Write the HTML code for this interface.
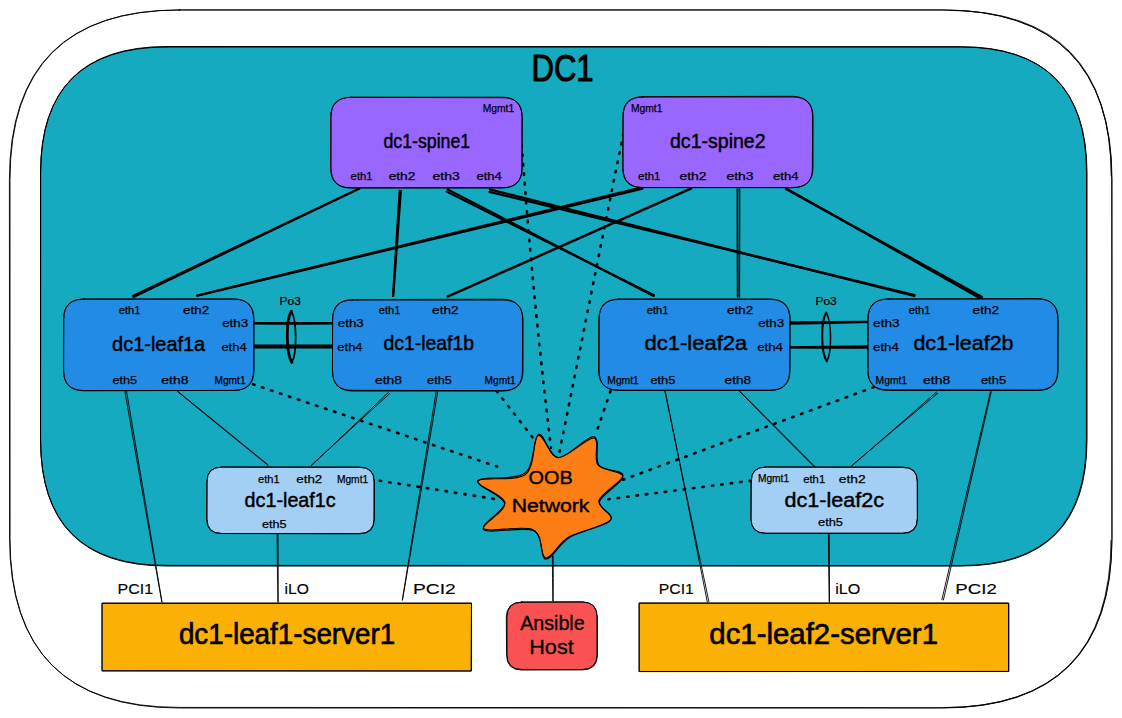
<!DOCTYPE html>
<html><head><meta charset="utf-8"><title>DC1 topology</title>
<style>html,body{margin:0;padding:0;background:#fff;overflow:hidden}svg{display:block}text{font-family:"Liberation Sans",sans-serif;fill:#000;stroke:#000;stroke-linejoin:round}</style>
</head><body>
<svg width="1122" height="718" viewBox="0 0 1122 718">
<rect width="1122" height="718" fill="#fff"/>
<path d="M179.6 10 L942.4 10 Q1112 10 1112 179.6 L1112 538.4 Q1112 708 942.4 708 L179.6 708 Q10 708 10 538.4 L10 179.6 Q10 10 179.6 10 Z" fill="none" stroke="#000" stroke-width="0.9" stroke-linejoin="round" stroke-linecap="round"/>
<path d="M179.2 9.9 L942 9.9 Q1111.7 9.9 1111.7 179.6 L1111.9 538.1 Q1111.7 707.7 942 707.7 L179.2 707.4 Q9.6 707.7 9.6 538.1 L9.4 179.6 Q9.6 9.9 179.2 9.9 Z" fill="none" stroke="#000" stroke-width="0.9" stroke-linejoin="round" stroke-linecap="round"/>
<path d="M166.6 47 L960.9 47 Q1087 47 1087 173.1 L1087 439.9 Q1087 566 960.9 566 L166.6 566 Q40.5 566 40.5 439.9 L40.5 173.1 Q40.5 47 166.6 47 Z" fill="#15aabf" stroke="none"/>
<path d="M166.6 47 L960.9 47 Q1087 47 1087 173.1 L1087 439.9 Q1087 566 960.9 566 L166.6 566 Q40.5 566 40.5 439.9 L40.5 173.1 Q40.5 47 166.6 47 Z" fill="none" stroke="#000" stroke-width="1.0" stroke-linejoin="round" stroke-linecap="round"/>
<path d="M166.7 46.5 L960.4 46.7 Q1086.5 46.5 1086.5 172.6 L1086.4 439.5 Q1086.5 565.6 960.4 565.6 L166.7 565.4 Q40.6 565.6 40.6 439.5 L40.7 172.6 Q40.6 46.5 166.7 46.5 Z" fill="none" stroke="#000" stroke-width="1.0" stroke-linejoin="round" stroke-linecap="round"/>
<path d="M950 10.4 Q1110.5 11.5 1111.2 176" fill="none" stroke="#000" stroke-width="0.8"/>
<path d="M1111 540 Q1110.5 706.5 945 707.6" fill="none" stroke="#000" stroke-width="0.8"/>
<path d="M126.5 391 Q144.4 496.5 162 602" fill="none" stroke="#000" stroke-width="0.9" stroke-linecap="round"/>
<path d="M124.9 391.3 Q143.1 496.7 161.8 602" fill="none" stroke="#000" stroke-width="0.9" stroke-linecap="round"/>
<path d="M437.7 392 Q420.3 496 402.5 600" fill="none" stroke="#000" stroke-width="0.9" stroke-linecap="round"/>
<path d="M436.2 391.7 Q419 495.8 402.3 600" fill="none" stroke="#000" stroke-width="0.9" stroke-linecap="round"/>
<path d="M278 534 Q278.3 568 278.2 602" fill="none" stroke="#000" stroke-width="0.9" stroke-linecap="round"/>
<path d="M277.1 534 Q277.3 568 277.9 602" fill="none" stroke="#000" stroke-width="0.9" stroke-linecap="round"/>
<path d="M177.9 391.5 Q223.2 428.1 268.3 465" fill="none" stroke="#000" stroke-width="0.9" stroke-linecap="round"/>
<path d="M177.7 391.7 Q222.7 428.7 268 465.4" fill="none" stroke="#000" stroke-width="0.9" stroke-linecap="round"/>
<path d="M388.3 392.5 Q350 429.1 311.5 465.5" fill="none" stroke="#000" stroke-width="0.9" stroke-linecap="round"/>
<path d="M389.5 393.8 Q350.3 429.4 311.3 465.3" fill="none" stroke="#000" stroke-width="0.9" stroke-linecap="round"/>
<path d="M665.3 391.5 Q686.5 496.7 707.3 602" fill="none" stroke="#000" stroke-width="0.9" stroke-linecap="round"/>
<path d="M665 391.6 Q686.7 496.7 708.9 601.7" fill="none" stroke="#000" stroke-width="0.9" stroke-linecap="round"/>
<path d="M991.2 392 Q967.5 496 943.4 600" fill="none" stroke="#000" stroke-width="0.9" stroke-linecap="round"/>
<path d="M990.4 391.8 Q965.9 495.7 941.9 599.7" fill="none" stroke="#000" stroke-width="0.9" stroke-linecap="round"/>
<path d="M829.2 534 Q829.5 568 829.5 602" fill="none" stroke="#000" stroke-width="0.9" stroke-linecap="round"/>
<path d="M828.4 534 Q828.6 568 829.2 602" fill="none" stroke="#000" stroke-width="0.9" stroke-linecap="round"/>
<path d="M740 391.5 Q777.5 428.9 814.8 466.5" fill="none" stroke="#000" stroke-width="0.9" stroke-linecap="round"/>
<path d="M739.8 391.7 Q776.9 429.5 814.4 466.9" fill="none" stroke="#000" stroke-width="0.9" stroke-linecap="round"/>
<path d="M936.6 392 Q894.3 429.1 851.7 466" fill="none" stroke="#000" stroke-width="0.9" stroke-linecap="round"/>
<path d="M937.7 393.3 Q894.5 429.3 851.5 465.8" fill="none" stroke="#000" stroke-width="0.9" stroke-linecap="round"/>
<path d="M553.2 556 Q553.4 578.5 553.2 601" fill="none" stroke="#000" stroke-width="0.9" stroke-linecap="round"/>
<path d="M552.4 556 Q552.4 578.5 552.8 601" fill="none" stroke="#000" stroke-width="0.9" stroke-linecap="round"/>
<path d="M359.5 188.7 Q246.6 243 133.5 297" fill="none" stroke="#000" stroke-width="2.0124999999999997" stroke-linecap="round"/>
<path d="M359.3 188.3 Q246 241.9 132.9 295.8" fill="none" stroke="#000" stroke-width="2.0124999999999997" stroke-linecap="round"/>
<path d="M400.9 191 Q397.3 243.5 393.3 296" fill="none" stroke="#000" stroke-width="2.1" stroke-linecap="round"/>
<path d="M399.6 190.9 Q396.1 243.4 393 296" fill="none" stroke="#000" stroke-width="2.1" stroke-linecap="round"/>
<path d="M447.7 189.5 Q550.7 242.6 653.6 296" fill="none" stroke="#000" stroke-width="2.1" stroke-linecap="round"/>
<path d="M446.6 191.6 Q550.2 243.6 654 295.2" fill="none" stroke="#000" stroke-width="2.1" stroke-linecap="round"/>
<path d="M490 189.5 Q702.2 242.6 914.3 296" fill="none" stroke="#000" stroke-width="2.275" stroke-linecap="round"/>
<path d="M489.4 191.9 Q701.9 243.7 914.5 295" fill="none" stroke="#000" stroke-width="2.275" stroke-linecap="round"/>
<path d="M642.5 188.7 Q419.9 242.4 197.3 295.7" fill="none" stroke="#000" stroke-width="2.1875" stroke-linecap="round"/>
<path d="M642.1 187.2 Q419.6 241.1 197.3 295.5" fill="none" stroke="#000" stroke-width="2.1875" stroke-linecap="round"/>
<path d="M691.5 188.7 Q569.7 243 447.7 297" fill="none" stroke="#000" stroke-width="1.8375000000000001" stroke-linecap="round"/>
<path d="M691.3 188.2 Q569.2 242 447.4 296.3" fill="none" stroke="#000" stroke-width="1.8375000000000001" stroke-linecap="round"/>
<path d="M739.5 189 Q739.6 243 739.3 297" fill="none" stroke="#000" stroke-width="1.575" stroke-linecap="round"/>
<path d="M737.4 189 Q737.3 243 737.6 297" fill="none" stroke="#000" stroke-width="1.575" stroke-linecap="round"/>
<path d="M786 189 Q884.1 242.9 982 297" fill="none" stroke="#000" stroke-width="2.275" stroke-linecap="round"/>
<path d="M786.3 188.4 Q883.6 243.8 981 298.8" fill="none" stroke="#000" stroke-width="2.275" stroke-linecap="round"/>
<path d="M254.5 323 Q293.8 322.8 333 323" fill="none" stroke="#000" stroke-width="1.9250000000000003" stroke-linecap="round"/>
<path d="M254.5 323.5 Q293.8 323.8 333 323.6" fill="none" stroke="#000" stroke-width="1.9250000000000003" stroke-linecap="round"/>
<path d="M254.5 346 Q293.8 345.8 333 346" fill="none" stroke="#000" stroke-width="2.8000000000000003" stroke-linecap="round"/>
<path d="M254.5 347 Q293.8 347.3 333 347.1" fill="none" stroke="#000" stroke-width="2.8000000000000003" stroke-linecap="round"/>
<path d="M790 322.2 Q829.5 321.8 869 321.8" fill="none" stroke="#000" stroke-width="1.9250000000000003" stroke-linecap="round"/>
<path d="M790 323.9 Q829.5 323.2 869 322.1" fill="none" stroke="#000" stroke-width="1.9250000000000003" stroke-linecap="round"/>
<path d="M788.5 347.2 Q828.7 346.5 869 346.2" fill="none" stroke="#000" stroke-width="1.9250000000000003" stroke-linecap="round"/>
<path d="M788.5 347.5 Q828.8 347.9 869 347.8" fill="none" stroke="#000" stroke-width="1.9250000000000003" stroke-linecap="round"/>
<path d="M521.7 145 Q532.8 296.8 551 448" fill="none" stroke="#000" stroke-width="2.6" stroke-linecap="round" stroke-dasharray="1.5 8"/>
<path d="M623.3 133.5 Q591.4 292.8 559.5 452" fill="none" stroke="#000" stroke-width="2.6" stroke-linecap="round" stroke-dasharray="1.5 8"/>
<path d="M496.6 391 Q515 414.8 533.5 438.5" fill="none" stroke="#000" stroke-width="2.6" stroke-linecap="round" stroke-dasharray="1.5 8"/>
<path d="M610.5 391 Q603 413 595.5 435" fill="none" stroke="#000" stroke-width="2.6" stroke-linecap="round" stroke-dasharray="1.5 8"/>
<path d="M253 384.3 Q375 425.4 497 466.5" fill="none" stroke="#000" stroke-width="2.6" stroke-linecap="round" stroke-dasharray="1.5 8"/>
<path d="M379.8 480.7 Q439.7 490.2 499.6 499.8" fill="none" stroke="#000" stroke-width="2.6" stroke-linecap="round" stroke-dasharray="1.5 8"/>
<path d="M873.8 387.1 Q748.3 433.5 622.8 479.8" fill="none" stroke="#000" stroke-width="2.6" stroke-linecap="round" stroke-dasharray="1.5 8"/>
<path d="M751 480.7 Q677.6 490.2 604.2 499.8" fill="none" stroke="#000" stroke-width="2.6" stroke-linecap="round" stroke-dasharray="1.5 8"/>
<path d="M291.3 311.3 C285.7 320.3 285.9 353.4 291.9 362.4" fill="none" stroke="#000" stroke-width="2.8" stroke-linecap="round"/>
<path d="M291.3 311.3 C296.9 320.3 297.1 353.4 291.9 362.4" fill="none" stroke="#000" stroke-width="1.7" stroke-linecap="round"/>
<path d="M826.2 312.6 C820.6 321.6 820.8 352.2 826.8 361.2" fill="none" stroke="#000" stroke-width="2.1" stroke-linecap="round"/>
<path d="M826.2 312.6 C831.8 321.6 832 352.2 826.8 361.2" fill="none" stroke="#000" stroke-width="1.5" stroke-linecap="round"/>
<path d="M351.1 97.2 L501.9 97.2 Q522 97.2 522 117.3 L522 167.7 Q522 187.8 501.9 187.8 L351.1 187.8 Q331 187.8 331 167.7 L331 117.3 Q331 97.2 351.1 97.2 Z" fill="#9966ff" stroke="none"/>
<path d="M351.1 97.2 L501.9 97.2 Q522 97.2 522 117.3 L522 167.7 Q522 187.8 501.9 187.8 L351.1 187.8 Q331 187.8 331 167.7 L331 117.3 Q331 97.2 351.1 97.2 Z" fill="none" stroke="#000" stroke-width="0.95" stroke-linejoin="round" stroke-linecap="round"/>
<path d="M350.7 97.4 L502.1 97.7 Q522.2 97.4 522.2 117.5 L522.1 167.8 Q522.2 187.9 502.1 187.9 L350.7 188 Q330.6 187.9 330.6 167.8 L330.7 117.5 Q330.6 97.4 350.7 97.4 Z" fill="none" stroke="#000" stroke-width="0.95" stroke-linejoin="round" stroke-linecap="round"/>
<path d="M643.1 97 L792.9 97 Q813 97 813 117.1 L813 167.4 Q813 187.5 792.9 187.5 L643.1 187.5 Q623 187.5 623 167.4 L623 117.1 Q623 97 643.1 97 Z" fill="#9966ff" stroke="none"/>
<path d="M643.1 97 L792.9 97 Q813 97 813 117.1 L813 167.4 Q813 187.5 792.9 187.5 L643.1 187.5 Q623 187.5 623 167.4 L623 117.1 Q623 97 643.1 97 Z" fill="none" stroke="#000" stroke-width="0.95" stroke-linejoin="round" stroke-linecap="round"/>
<path d="M642.8 96.7 L792.5 96.3 Q812.6 96.7 812.6 116.7 L812.4 167.7 Q812.6 187.7 792.5 187.7 L642.8 187.6 Q622.7 187.7 622.7 167.7 L623 116.7 Q622.7 96.7 642.8 96.7 Z" fill="none" stroke="#000" stroke-width="0.95" stroke-linejoin="round" stroke-linecap="round"/>
<path d="M83.8 299.2 L233.7 299.2 Q254 299.2 254 319.5 L254 370.2 Q254 390.5 233.7 390.5 L83.8 390.5 Q63.5 390.5 63.5 370.2 L63.5 319.5 Q63.5 299.2 83.8 299.2 Z" fill="#228be6" stroke="none"/>
<path d="M83.8 299.2 L233.7 299.2 Q254 299.2 254 319.5 L254 370.2 Q254 390.5 233.7 390.5 L83.8 390.5 Q63.5 390.5 63.5 370.2 L63.5 319.5 Q63.5 299.2 83.8 299.2 Z" fill="none" stroke="#000" stroke-width="0.95" stroke-linejoin="round" stroke-linecap="round"/>
<path d="M83.8 299 L233.3 298.9 Q253.6 299 253.6 319.3 L253.6 370.2 Q253.6 390.4 233.3 390.4 L83.8 390.8 Q63.6 390.4 63.6 370.2 L63.8 319.3 Q63.6 299 83.8 299 Z" fill="none" stroke="#000" stroke-width="0.95" stroke-linejoin="round" stroke-linecap="round"/>
<path d="M352.7 300 L502.8 300 Q523 300 523 320.2 L523 370.8 Q523 391 502.8 391 L352.7 391 Q332.5 391 332.5 370.8 L332.5 320.2 Q332.5 300 352.7 300 Z" fill="#228be6" stroke="none"/>
<path d="M352.7 300 L502.8 300 Q523 300 523 320.2 L523 370.8 Q523 391 502.8 391 L352.7 391 Q332.5 391 332.5 370.8 L332.5 320.2 Q332.5 300 352.7 300 Z" fill="none" stroke="#000" stroke-width="0.95" stroke-linejoin="round" stroke-linecap="round"/>
<path d="M352.6 299.6 L502.3 299.2 Q522.6 299.6 522.6 319.8 L522.4 370.5 Q522.6 390.7 502.3 390.7 L352.6 390.3 Q332.4 390.7 332.4 370.5 L332.7 319.8 Q332.4 299.6 352.6 299.6 Z" fill="none" stroke="#000" stroke-width="0.95" stroke-linejoin="round" stroke-linecap="round"/>
<path d="M619.3 299 L769.7 299 Q790 299 790 319.3 L790 370.2 Q790 390.5 769.7 390.5 L619.3 390.5 Q599 390.5 599 370.2 L599 319.3 Q599 299 619.3 299 Z" fill="#228be6" stroke="none"/>
<path d="M619.3 299 L769.7 299 Q790 299 790 319.3 L790 370.2 Q790 390.5 769.7 390.5 L619.3 390.5 Q599 390.5 599 370.2 L599 319.3 Q599 299 619.3 299 Z" fill="none" stroke="#000" stroke-width="0.95" stroke-linejoin="round" stroke-linecap="round"/>
<path d="M618.9 299.4 L769.7 299.4 Q790 299.4 790 319.7 L789.6 369.9 Q790 390.2 769.7 390.2 L618.9 390.2 Q598.6 390.2 598.6 369.9 L599 319.7 Q598.6 299.4 618.9 299.4 Z" fill="none" stroke="#000" stroke-width="0.95" stroke-linejoin="round" stroke-linecap="round"/>
<path d="M888.3 299 L1037.7 299 Q1058 299 1058 319.3 L1058 370.2 Q1058 390.5 1037.7 390.5 L888.3 390.5 Q868 390.5 868 370.2 L868 319.3 Q868 299 888.3 299 Z" fill="#228be6" stroke="none"/>
<path d="M888.3 299 L1037.7 299 Q1058 299 1058 319.3 L1058 370.2 Q1058 390.5 1037.7 390.5 L888.3 390.5 Q868 390.5 868 370.2 L868 319.3 Q868 299 888.3 299 Z" fill="none" stroke="#000" stroke-width="0.95" stroke-linejoin="round" stroke-linecap="round"/>
<path d="M888.1 299 L1037.6 298.6 Q1057.9 299 1057.9 319.3 L1057.7 369.8 Q1057.9 390.1 1037.6 390.1 L888.1 389.9 Q867.8 390.1 867.8 369.8 L867.9 319.3 Q867.8 299 888.1 299 Z" fill="none" stroke="#000" stroke-width="0.95" stroke-linejoin="round" stroke-linecap="round"/>
<path d="M221.8 467 L359.2 467 Q374 467 374 481.8 L374 518.7 Q374 533.5 359.2 533.5 L221.8 533.5 Q207 533.5 207 518.7 L207 481.8 Q207 467 221.8 467 Z" fill="#a3cff4" stroke="none"/>
<path d="M221.8 467 L359.2 467 Q374 467 374 481.8 L374 518.7 Q374 533.5 359.2 533.5 L221.8 533.5 Q207 533.5 207 518.7 L207 481.8 Q207 467 221.8 467 Z" fill="none" stroke="#000" stroke-width="0.95" stroke-linejoin="round" stroke-linecap="round"/>
<path d="M221.4 467.1 L359.6 467.4 Q374.4 467.1 374.4 481.9 L374.3 519 Q374.4 533.8 359.6 533.8 L221.4 533.5 Q206.6 533.8 206.6 519 L206.9 481.9 Q206.6 467.1 221.4 467.1 Z" fill="none" stroke="#000" stroke-width="0.95" stroke-linejoin="round" stroke-linecap="round"/>
<path d="M765.8 467 L902.7 467 Q917.5 467 917.5 481.8 L917.5 518.7 Q917.5 533.5 902.7 533.5 L765.8 533.5 Q751 533.5 751 518.7 L751 481.8 Q751 467 765.8 467 Z" fill="#a3cff4" stroke="none"/>
<path d="M765.8 467 L902.7 467 Q917.5 467 917.5 481.8 L917.5 518.7 Q917.5 533.5 902.7 533.5 L765.8 533.5 Q751 533.5 751 518.7 L751 481.8 Q751 467 765.8 467 Z" fill="none" stroke="#000" stroke-width="0.95" stroke-linejoin="round" stroke-linecap="round"/>
<path d="M765.6 467 L902.4 467.5 Q917.2 467 917.2 481.8 L917.3 518.3 Q917.2 533.1 902.4 533.1 L765.6 533.1 Q750.9 533.1 750.9 518.3 L751.3 481.8 Q750.9 467 765.6 467 Z" fill="none" stroke="#000" stroke-width="0.95" stroke-linejoin="round" stroke-linecap="round"/>
<path d="M102.5 603 L471.5 603 L471.5 671 L102.5 671 Z" fill="#fab005" stroke="none"/>
<path d="M102.5 603 L471.5 603 L471.5 671 L102.5 671 Z" fill="none" stroke="#000" stroke-width="0.95" stroke-linejoin="round" stroke-linecap="round"/>
<path d="M102.4 603.4 L471.5 603.4 L471.1 671 L102.4 670.7 Z" fill="none" stroke="#000" stroke-width="0.95" stroke-linejoin="round" stroke-linecap="round"/>
<path d="M639.5 603 L1008.5 603 L1008.5 671.5 L639.5 671.5 Z" fill="#fab005" stroke="none"/>
<path d="M639.5 603 L1008.5 603 L1008.5 671.5 L639.5 671.5 Z" fill="none" stroke="#000" stroke-width="0.95" stroke-linejoin="round" stroke-linecap="round"/>
<path d="M639.6 603.2 L1008.9 603.3 L1008.9 671.4 L639.6 671.6 Z" fill="none" stroke="#000" stroke-width="0.95" stroke-linejoin="round" stroke-linecap="round"/>
<path d="M522 602 L582 602 Q597 602 597 617 L597 654.5 Q597 669.5 582 669.5 L522 669.5 Q507 669.5 507 654.5 L507 617 Q507 602 522 602 Z" fill="#fa5252" stroke="none"/>
<path d="M522 602 L582 602 Q597 602 597 617 L597 654.5 Q597 669.5 582 669.5 L522 669.5 Q507 669.5 507 654.5 L507 617 Q507 602 522 602 Z" fill="none" stroke="#000" stroke-width="0.95" stroke-linejoin="round" stroke-linecap="round"/>
<path d="M521.6 602.2 L582.3 601.8 Q597.3 602.2 597.3 617.1 L597.5 654.9 Q597.3 669.9 582.3 669.9 L521.6 670 Q506.6 669.9 506.6 654.9 L506.3 617.1 Q506.6 602.2 521.6 602.2 Z" fill="none" stroke="#000" stroke-width="0.95" stroke-linejoin="round" stroke-linecap="round"/>
<path d="M538.4 434.6 C544 432 549 457.2 558.2 457.6 C567.4 458 587.2 435.5 593.8 436.7 C600.4 437.9 593 458.4 597.9 464.9 C602.8 471.3 622.8 469.5 623 475.4 C623.2 481.3 601.1 493 599 500.5 C596.9 508 615.5 514.2 610.5 520.3 C605.5 526.4 579.5 530.7 568.7 537 C557.9 543.3 551.6 559.1 545.7 557.9 C539.8 556.7 543.4 534.6 533.1 529.7 C522.8 524.8 488.7 533.2 484 528.7 C479.3 524.2 505.9 510.5 504.9 502.5 C503.9 494.5 474.5 485.5 477.8 480.6 C481.1 475.7 514.7 481 524.8 473.3 C534.9 465.6 532.8 437.2 538.4 434.6 Z" fill="#fd7e14" stroke="none"/>
<path d="M538.4 434.6 C544 432 549 457.2 558.2 457.6 C567.4 458 587.2 435.5 593.8 436.7 C600.4 437.9 593 458.4 597.9 464.9 C602.8 471.3 622.8 469.5 623 475.4 C623.2 481.3 601.1 493 599 500.5 C596.9 508 615.5 514.2 610.5 520.3 C605.5 526.4 579.5 530.7 568.7 537 C557.9 543.3 551.6 559.1 545.7 557.9 C539.8 556.7 543.4 534.6 533.1 529.7 C522.8 524.8 488.7 533.2 484 528.7 C479.3 524.2 505.9 510.5 504.9 502.5 C503.9 494.5 474.5 485.5 477.8 480.6 C481.1 475.7 514.7 481 524.8 473.3 C534.9 465.6 532.8 437.2 538.4 434.6 Z" fill="none" stroke="#000" stroke-width="1.1" stroke-linejoin="round"/>
<path d="M538.2 435.6 C543.7 432.8 549 457.2 558.3 457.6 C567.7 458 587.4 436.7 594.2 438 C600.9 439.2 594.1 458.7 598.9 465.1 C603.7 471.6 622.8 470.6 622.9 476.7 C623.1 482.7 601.7 494.2 599.6 501.4 C597.5 508.7 615.4 514.2 610.3 520.2 C605.3 526.2 580.3 531 569.5 537.5 C558.7 544 551.5 560.3 545.5 559.2 C539.6 558.1 544.1 535.7 533.8 530.8 C523.5 525.9 488.7 534.4 483.8 529.9 C479 525.4 505.6 511.8 504.7 503.7 C503.8 495.5 474.8 485.8 478.2 480.9 C481.7 476.1 515.4 482.1 525.4 474.6 C535.4 467 532.7 438.5 538.2 435.6 Z" fill="none" stroke="#000" stroke-width="1.1" stroke-linejoin="round"/>
<text x="531.5" y="80.6" font-size="37" stroke-width="1.10" textLength="62" lengthAdjust="spacingAndGlyphs">DC1</text>
<text x="383.4" y="148.3" font-size="20.5" stroke-width="0.45" textLength="86.8" lengthAdjust="spacingAndGlyphs">dc1-spine1</text>
<text x="670" y="148.4" font-size="20.5" stroke-width="0.45" textLength="95.6" lengthAdjust="spacingAndGlyphs">dc1-spine2</text>
<text x="482.7" y="112" font-size="11" stroke-width="0.25" textLength="31.5" lengthAdjust="spacingAndGlyphs">Mgmt1</text>
<text x="630.9" y="112" font-size="11" stroke-width="0.25" textLength="31.5" lengthAdjust="spacingAndGlyphs">Mgmt1</text>
<text x="350.6" y="179.9" font-size="11.5" stroke-width="0.25" textLength="22" lengthAdjust="spacingAndGlyphs">eth1</text>
<text x="388.7" y="179.9" font-size="11.5" stroke-width="0.25" textLength="26.7" lengthAdjust="spacingAndGlyphs">eth2</text>
<text x="432.6" y="179.9" font-size="11.5" stroke-width="0.25" textLength="27.2" lengthAdjust="spacingAndGlyphs">eth3</text>
<text x="476.4" y="179.9" font-size="11.5" stroke-width="0.25" textLength="25.5" lengthAdjust="spacingAndGlyphs">eth4</text>
<text x="638.1" y="179.9" font-size="11.5" stroke-width="0.25" textLength="22.3" lengthAdjust="spacingAndGlyphs">eth1</text>
<text x="679.4" y="179.9" font-size="11.5" stroke-width="0.25" textLength="27.2" lengthAdjust="spacingAndGlyphs">eth2</text>
<text x="726.5" y="179.9" font-size="11.5" stroke-width="0.25" textLength="27.1" lengthAdjust="spacingAndGlyphs">eth3</text>
<text x="773" y="179.9" font-size="11.5" stroke-width="0.25" textLength="25.7" lengthAdjust="spacingAndGlyphs">eth4</text>
<text x="112.1" y="351" font-size="20.5" stroke-width="0.45" textLength="93.1" lengthAdjust="spacingAndGlyphs">dc1-leaf1a</text>
<text x="383.4" y="349.8" font-size="20.5" stroke-width="0.45" textLength="90.6" lengthAdjust="spacingAndGlyphs">dc1-leaf1b</text>
<text x="644.6" y="350.4" font-size="20.5" stroke-width="0.45" textLength="102.6" lengthAdjust="spacingAndGlyphs">dc1-leaf2a</text>
<text x="913.4" y="350.4" font-size="20.5" stroke-width="0.45" textLength="100.1" lengthAdjust="spacingAndGlyphs">dc1-leaf2b</text>
<text x="118.7" y="313.8" font-size="11.5" stroke-width="0.25" textLength="21.7" lengthAdjust="spacingAndGlyphs">eth1</text>
<text x="183.1" y="313.8" font-size="11.5" stroke-width="0.25" textLength="26" lengthAdjust="spacingAndGlyphs">eth2</text>
<text x="222.2" y="326.9" font-size="11.5" stroke-width="0.25" textLength="26" lengthAdjust="spacingAndGlyphs">eth3</text>
<text x="221.4" y="350.7" font-size="11.5" stroke-width="0.25" textLength="25.2" lengthAdjust="spacingAndGlyphs">eth4</text>
<text x="112.4" y="383.5" font-size="11.5" stroke-width="0.25" textLength="24.7" lengthAdjust="spacingAndGlyphs">eth5</text>
<text x="161.3" y="383.5" font-size="11.5" stroke-width="0.25" textLength="27.2" lengthAdjust="spacingAndGlyphs">eth8</text>
<text x="214.4" y="383.5" font-size="11" stroke-width="0.25" textLength="31.2" lengthAdjust="spacingAndGlyphs">Mgmt1</text>
<text x="378.7" y="313.8" font-size="11.5" stroke-width="0.25" textLength="21.7" lengthAdjust="spacingAndGlyphs">eth1</text>
<text x="432.1" y="313.8" font-size="11.5" stroke-width="0.25" textLength="26.5" lengthAdjust="spacingAndGlyphs">eth2</text>
<text x="337.8" y="326.9" font-size="11.5" stroke-width="0.25" textLength="26" lengthAdjust="spacingAndGlyphs">eth3</text>
<text x="337.3" y="350.7" font-size="11.5" stroke-width="0.25" textLength="25.3" lengthAdjust="spacingAndGlyphs">eth4</text>
<text x="374.9" y="383.5" font-size="11.5" stroke-width="0.25" textLength="27.2" lengthAdjust="spacingAndGlyphs">eth8</text>
<text x="427.1" y="383.5" font-size="11.5" stroke-width="0.25" textLength="24.7" lengthAdjust="spacingAndGlyphs">eth5</text>
<text x="484.5" y="383.5" font-size="11" stroke-width="0.25" textLength="31.2" lengthAdjust="spacingAndGlyphs">Mgmt1</text>
<text x="646.7" y="313.8" font-size="11.5" stroke-width="0.25" textLength="21.7" lengthAdjust="spacingAndGlyphs">eth1</text>
<text x="727.1" y="313.8" font-size="11.5" stroke-width="0.25" textLength="26" lengthAdjust="spacingAndGlyphs">eth2</text>
<text x="758.2" y="327" font-size="11.5" stroke-width="0.25" textLength="26" lengthAdjust="spacingAndGlyphs">eth3</text>
<text x="757.2" y="350.7" font-size="11.5" stroke-width="0.25" textLength="25.7" lengthAdjust="spacingAndGlyphs">eth4</text>
<text x="607.3" y="383.5" font-size="11" stroke-width="0.25" textLength="31.5" lengthAdjust="spacingAndGlyphs">Mgmt1</text>
<text x="650.4" y="383.5" font-size="11.5" stroke-width="0.25" textLength="25" lengthAdjust="spacingAndGlyphs">eth5</text>
<text x="724.6" y="383.5" font-size="11.5" stroke-width="0.25" textLength="26.5" lengthAdjust="spacingAndGlyphs">eth8</text>
<text x="908.7" y="313.8" font-size="11.5" stroke-width="0.25" textLength="21.7" lengthAdjust="spacingAndGlyphs">eth1</text>
<text x="972.6" y="313.8" font-size="11.5" stroke-width="0.25" textLength="26.5" lengthAdjust="spacingAndGlyphs">eth2</text>
<text x="873.1" y="327" font-size="11.5" stroke-width="0.25" textLength="26.5" lengthAdjust="spacingAndGlyphs">eth3</text>
<text x="873.1" y="350.7" font-size="11.5" stroke-width="0.25" textLength="25.7" lengthAdjust="spacingAndGlyphs">eth4</text>
<text x="875.6" y="383.5" font-size="11" stroke-width="0.25" textLength="31.5" lengthAdjust="spacingAndGlyphs">Mgmt1</text>
<text x="923" y="383.5" font-size="11.5" stroke-width="0.25" textLength="27.2" lengthAdjust="spacingAndGlyphs">eth8</text>
<text x="980.9" y="383.5" font-size="11.5" stroke-width="0.25" textLength="25.2" lengthAdjust="spacingAndGlyphs">eth5</text>
<text x="258" y="482.7" font-size="11.5" stroke-width="0.25" textLength="21.6" lengthAdjust="spacingAndGlyphs">eth1</text>
<text x="296.3" y="482.7" font-size="11.5" stroke-width="0.25" textLength="26" lengthAdjust="spacingAndGlyphs">eth2</text>
<text x="336.9" y="482.7" font-size="11" stroke-width="0.25" textLength="31.3" lengthAdjust="spacingAndGlyphs">Mgmt1</text>
<text x="262" y="528.3" font-size="11.5" stroke-width="0.25" textLength="24.6" lengthAdjust="spacingAndGlyphs">eth5</text>
<text x="757.9" y="482.2" font-size="11" stroke-width="0.25" textLength="31.2" lengthAdjust="spacingAndGlyphs">Mgmt1</text>
<text x="803.2" y="482.7" font-size="11.5" stroke-width="0.25" textLength="22" lengthAdjust="spacingAndGlyphs">eth1</text>
<text x="838.8" y="482.7" font-size="11.5" stroke-width="0.25" textLength="26.8" lengthAdjust="spacingAndGlyphs">eth2</text>
<text x="818" y="525.8" font-size="11.5" stroke-width="0.25" textLength="25" lengthAdjust="spacingAndGlyphs">eth5</text>
<text x="279.6" y="305" font-size="11" stroke-width="0.25" textLength="21.2" lengthAdjust="spacingAndGlyphs">Po3</text>
<text x="815.4" y="305" font-size="11" stroke-width="0.25" textLength="21.4" lengthAdjust="spacingAndGlyphs">Po3</text>
<text x="244.6" y="506.5" font-size="20.5" stroke-width="0.45" textLength="91.1" lengthAdjust="spacingAndGlyphs">dc1-leaf1c</text>
<text x="784.6" y="506.5" font-size="20.5" stroke-width="0.45" textLength="99.4" lengthAdjust="spacingAndGlyphs">dc1-leaf2c</text>
<text x="528.5" y="484.4" font-size="18" stroke-width="0.40" textLength="44.2" lengthAdjust="spacingAndGlyphs">OOB</text>
<text x="511.7" y="512" font-size="18" stroke-width="0.40" textLength="77.7" lengthAdjust="spacingAndGlyphs">Network</text>
<text x="520.2" y="630" font-size="21" stroke-width="0.30" textLength="64.5" lengthAdjust="spacingAndGlyphs">Ansible</text>
<text x="529.2" y="654.2" font-size="21" stroke-width="0.30" textLength="44.6" lengthAdjust="spacingAndGlyphs">Host</text>
<text x="178.9" y="643.8" font-size="29" stroke-width="0.64" textLength="216.3" lengthAdjust="spacingAndGlyphs">dc1-leaf1-server1</text>
<text x="709.3" y="643.8" font-size="29" stroke-width="0.64" textLength="228.7" lengthAdjust="spacingAndGlyphs">dc1-leaf2-server1</text>
<text x="117.6" y="594" font-size="15" stroke-width="0.15" textLength="35.5" lengthAdjust="spacingAndGlyphs">PCI1</text>
<text x="284.6" y="594" font-size="15" stroke-width="0.15" textLength="24.4" lengthAdjust="spacingAndGlyphs">iLO</text>
<text x="412.9" y="594" font-size="15" stroke-width="0.15" textLength="42.9" lengthAdjust="spacingAndGlyphs">PCI2</text>
<text x="658.8" y="594" font-size="15" stroke-width="0.15" textLength="35.1" lengthAdjust="spacingAndGlyphs">PCI1</text>
<text x="835.2" y="594" font-size="15" stroke-width="0.15" textLength="25.1" lengthAdjust="spacingAndGlyphs">iLO</text>
<text x="955.3" y="594" font-size="15" stroke-width="0.15" textLength="41.5" lengthAdjust="spacingAndGlyphs">PCI2</text>
</svg>
</body></html>
